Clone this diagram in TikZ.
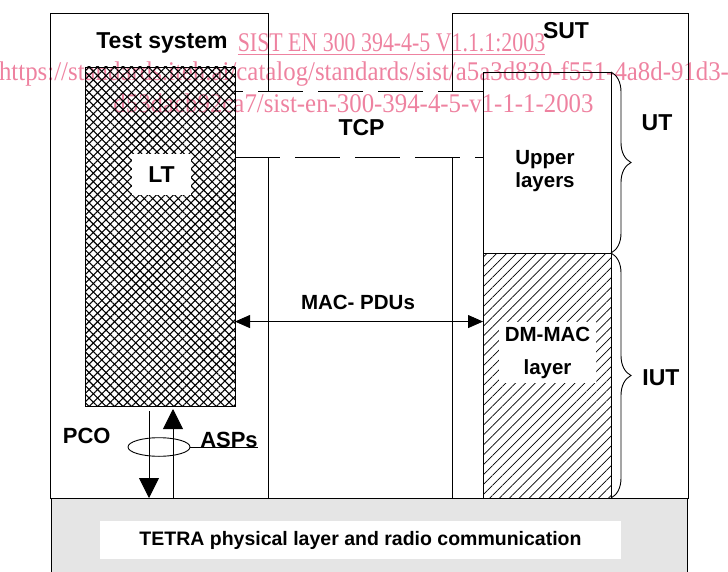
\documentclass[tikz,border=0pt]{standalone}
\usepackage{fontspec}
\setmainfont{Liberation Sans}
\newfontfamily\wmfont[FakeStretch=0.81]{Liberation Serif}
\newfontfamily\wmwidefont[FakeStretch=0.92]{Liberation Serif}
\usetikzlibrary{calc,positioning,shapes.geometric,patterns.meta,decorations.pathreplacing,arrows.meta}
\tikzset{>=stealth}
\definecolor{wmpink}{RGB}{238,130,160}
\definecolor{phygray}{RGB}{229,229,229}
\tikzset{
  biglabel/.style={font=\fontsize{23}{27}\selectfont\bfseries, inner sep=0pt},
  smalllabel/.style={font=\fontsize{20.5}{23}\selectfont\bfseries, inner sep=0pt, align=center},
  wmtext/.style={font=\fontsize{27}{30}\wmfont, text=wmpink, inner sep=0pt, anchor=base},
  crosshatch/.style={pattern={Lines[angle=45,distance=6pt,line width=1.1pt]},
    postaction={pattern={Lines[angle=-45,distance=6pt,line width=1.1pt]}}},
  diaghatch/.style={pattern={Lines[angle=45,distance=7pt,line width=0.7pt]}},
  layerbox/.style={draw, inner sep=0pt, outer sep=0pt},
  tcpline/.style={dash pattern=on 45pt off 15pt},
  pcoarrow/.style={-{Triangle[length=20pt,width=20pt]}},
  pduarrow/.style={{Triangle[length=15pt,width=13pt]}-{Triangle[length=15pt,width=13pt]}},
  layerbrace/.style={decorate, decoration={brace, amplitude=20pt}}
}

\begin{document}
\begin{tikzpicture}[x=1pt, y=-1pt, line width=0.9pt]
      \useasboundingbox (0,0) rectangle (728,572);

      % watermark
      \node [wmtext] (wmone) at (391.5,52) {\underline{SIST EN 300 394-4-5 V1.1.1:2003}};
      \node [wmtext, font=\fontsize{27}{30}\wmwidefont] (wmtwo) at (364,81) {https://standards.iteh.ai/catalog/standards/sist/a5a3d830-f551-4a8d-91d3-};
      \node [wmtext, font=\fontsize{27}{30}\wmwidefont] (wmthree) at (353.5,113) {d53dacb92ca7/sist-en-300-394-4-5-v1-1-1-2003};

      % test system and SUT frames
      \draw (268,91) -- (268,13) -- (50.7,13) -- (50.7,498) -- (268,498) -- (268,157);
      \draw (452,91) -- (452,13.7) -- (688,13.7) -- (688,498) -- (452,498) -- (452,157);
      \node [biglabel] (testsys) at (162,43) {Test system};
      \node [biglabel] (sut) at (566,31) {SUT};

      % lower tester
      \node [layerbox,
        crosshatch,
        minimum width=150pt,
        minimum height=339pt
      ] (lt) at (160,236.5) {};
      \node [biglabel,
        fill=white,
        minimum width=59pt,
        minimum height=41pt
      ] (ltlabel) at (161.5,174.5) {LT};

      % SUT layers
      \node [layerbox,
        minimum width=128pt,
        minimum height=181pt
      ] (upper) at (547,162.5) {};
      \node [smalllabel] (uppertext) at (545,171) {Upper\\layers};
      \node [layerbox,
        diaghatch,
        minimum width=128pt,
        minimum height=245pt,
        below=0pt of upper
      ] (dmmac) {};
      \node [smalllabel,
        fill=white,
        minimum width=97pt,
        minimum height=61pt
      ] (maclabel) at (547.5,352.5) {DM-MAC\\[10pt]layer};

      % TCP
      \coordinate (tcptop) at ($(lt.north east)+(0,24)$);
      \coordinate (tcpbot) at ($(lt.north east)+(0,90)$);
      \draw [tcpline, dash phase=37pt] (tcptop) -- (tcptop -| upper.west);
      \draw [tcpline] (tcpbot) -- (tcpbot -| upper.west);
      \node [biglabel] (tcp) at (361.5,128) {TCP};

      % MAC PDUs
      \draw [pduarrow] (lt.east |- maclabel.north) -- (dmmac.west |- maclabel.north);
      \node [smalllabel] (pdus) at (358,302.7) {MAC- PDUs};

      % braces
      \draw [layerbrace] (upper.north east) -- (upper.south east);
      \draw [layerbrace] (dmmac.north east) -- (dmmac.south east);
      \node [biglabel] (ut) at (657,123) {UT};
      \node [biglabel] (iut) at (661,378) {IUT};

      % physical layer
      \node [draw,
        fill=phygray,
        inner sep=0pt,
        minimum width=636.3pt,
        minimum height=80pt,
        anchor=north west
      ] (phy) at (50.7,498) {};
      \node [smalllabel,
        font=\fontsize{19.5}{23}\selectfont\bfseries,
        fill=white,
        minimum width=521pt,
        minimum height=38pt
      ] (phylabel) at (360.5,540) {TETRA physical layer and radio communication};

      % PCO
      \draw [pcoarrow] ([xshift=-11pt,yshift=-5pt]lt.south) -- ([xshift=-11pt]lt.south |- phy.north);
      \draw [pcoarrow] ([xshift=13pt]lt.south |- phy.north) -- ([xshift=13pt,yshift=-3pt]lt.south);
      \node [draw,
        ellipse,
        inner sep=0pt,
        minimum width=62pt,
        minimum height=18.6pt
      ] (pco) at (159,447) {};
      \node [biglabel, font=\fontsize{22}{26}\selectfont\bfseries] (pcotext) at (86.7,436) {PCO};
      \node [biglabel, font=\fontsize{22}{26}\selectfont\bfseries] (asps) at (229,440) {ASPs};
      \draw (pco.east) -- (pco.east -| asps.east);
\end{tikzpicture}
\end{document}
